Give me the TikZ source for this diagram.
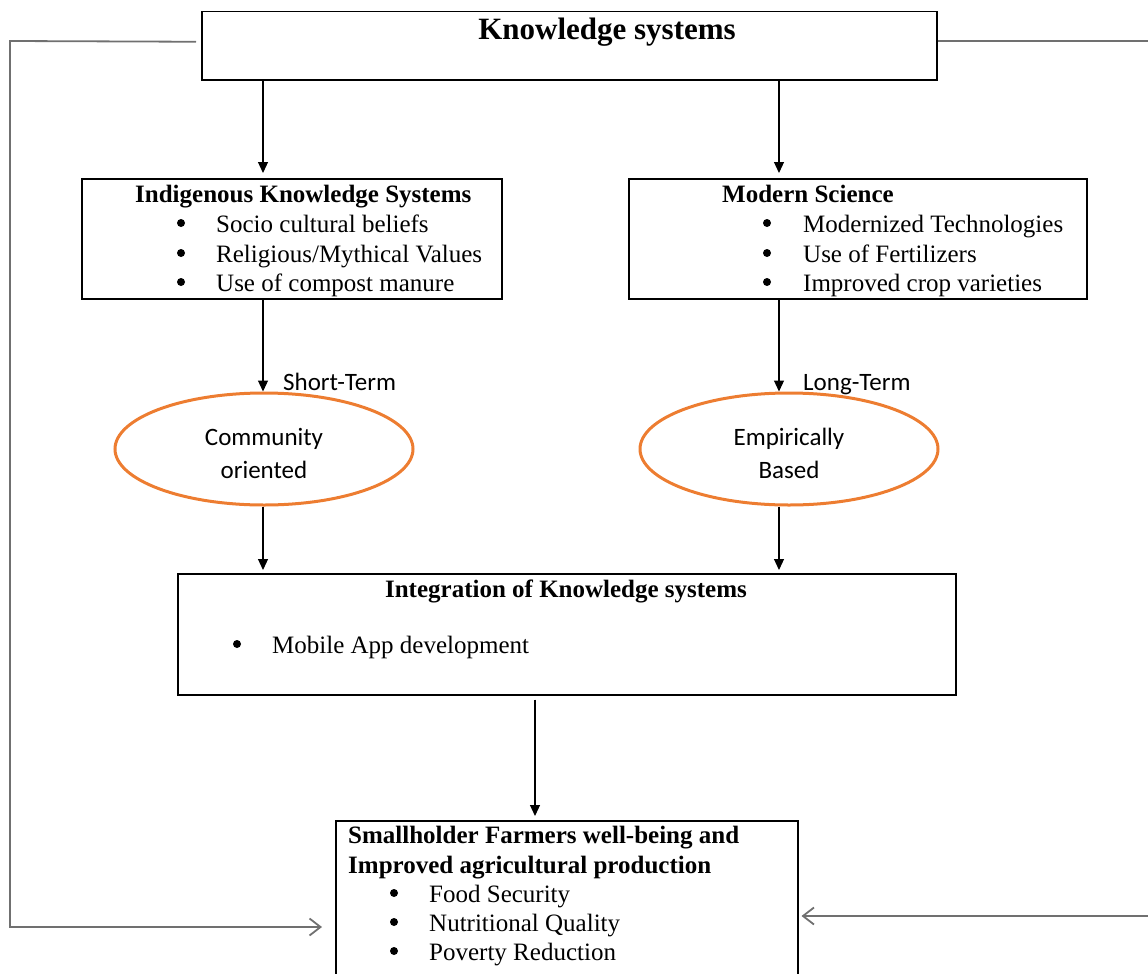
\documentclass[tikz,border=0pt]{standalone}
\usepackage{fontspec}
\setmainfont{Liberation Serif}
\newfontfamily\calfont{Carlito}
\usetikzlibrary{shapes.geometric,arrows.meta}
\definecolor{ovalorange}{RGB}{237,125,49}
\definecolor{linegrey}{RGB}{112,112,112}
\tikzset{
  box/.style={draw=black, line width=1.5pt, inner sep=0pt, anchor=north west},
  txt/.style={inner sep=0pt, anchor=base west, font=\fontsize{25}{30}\selectfont},
  ttl/.style={inner sep=0pt, anchor=base west, font=\fontsize{25}{30}\selectfont\bfseries},
  bul/.style={circle, fill=black, inner sep=0pt, minimum size=8pt},
  ctxt/.style={inner sep=0pt, anchor=base, font=\calfont\fontsize{25}{30}\selectfont},
  clbl/.style={inner sep=0pt, anchor=base west, font=\calfont\fontsize{25}{30}\selectfont},
  oval/.style={ellipse, draw=ovalorange, line width=3pt, minimum width=298pt, minimum height=112pt, inner sep=0pt},
  arr/.style={line width=1.2pt, -{Triangle[length=11pt,width=10pt]}},
  garr/.style={draw=linegrey, line width=1.8pt, -{Straight Barb[length=11pt,width=17pt]}},
  gline/.style={draw=linegrey, line width=1.8pt}
}
\begin{document}
\begin{tikzpicture}[x=1pt,y=-1pt]
\useasboundingbox (0,0) rectangle (1148,974);
% boxes
\node[box, minimum width=735pt, minimum height=68pt] (top) at (201,11) {};
\node[box, minimum width=420pt, minimum height=120pt] (iks) at (81,178) {};
\node[box, minimum width=458pt, minimum height=120pt] (ms) at (628,178) {};
\node[box, minimum width=778pt, minimum height=121pt] (integ) at (177,573) {};
\node[box, minimum width=462pt, minimum height=160pt] (bot) at (335,820) {};
\node[oval] (ellL) at (264,449) {};
\node[oval] (ellR) at (789,449) {};
% texts
\node[inner sep=0pt, anchor=base, font=\fontsize{31}{36}\selectfont\bfseries] (ttop) at (607,40) {Knowledge systems};
\node[ttl] (tiks) at (135,202) {Indigenous Knowledge Systems};
\node[bul] (b1) at (181,223) {};
\node[bul] (b2) at (181,253) {};
\node[bul] (b3) at (181,282) {};
\node[txt] (i1) at (216,232) {Socio cultural beliefs};
\node[txt] (i2) at (216,262) {Religious/Mythical Values};
\node[txt] (i3) at (216,291) {Use of compost manure};
\node[ttl] (tms) at (722,202) {Modern Science};
\node[bul] (b4) at (767,223) {};
\node[bul] (b5) at (767,253) {};
\node[bul] (b6) at (767,282) {};
\node[txt] (m1) at (803,232) {Modernized Technologies};
\node[txt] (m2) at (803,262) {Use of Fertilizers};
\node[txt] (m3) at (803,291) {Improved crop varieties};
\node[clbl] (lshort) at (283,390) {Short-Term};
\node[clbl] (llong) at (803,390) {Long-Term};
\node[ctxt] (e1) at (264,445) {Community};
\node[ctxt] (e2) at (264,478) {oriented};
\node[ctxt] (e3) at (789,445) {Empirically};
\node[ctxt] (e4) at (789,478) {Based};
\node[inner sep=0pt, anchor=base, font=\fontsize{25}{30}\selectfont\bfseries] (tint) at (566,597) {Integration of Knowledge systems};
\node[bul] (b7) at (237,644) {};
\node[txt] (n1) at (272,653) {Mobile App development};
\node[ttl] (tb1) at (348,843) {Smallholder Farmers well-being and};
\node[ttl] (tb2) at (348,873) {Improved agricultural production};
\node[bul] (b8) at (394,893) {};
\node[bul] (b9) at (394,922) {};
\node[bul] (b10) at (394,951) {};
\node[txt] (s1) at (429,902) {Food Security};
\node[txt] (s2) at (429,931) {Nutritional Quality};
\node[txt] (s3) at (429,960) {Poverty Reduction};
% connector columns
\coordinate (cL) at (263,0);
\coordinate (cR) at (779,0);
\coordinate (cM) at (535,0);
\coordinate (L1) at (10,41);
\coordinate (L2) at (10,927);
\coordinate (R1) at (1148,41);
\coordinate (R2) at (1148,916);
% arrows
\draw[arr, shorten >=5pt] (top.south -| cL) -- (iks.north -| cL);
\draw[arr, shorten >=5pt] (top.south -| cR) -- (ms.north -| cR);
\draw[arr] (iks.south -| cL) -- (ellL.north -| cL);
\draw[arr] (ms.south -| cR) -- (ellR.north -| cR);
\draw[arr, shorten >=3pt] (ellL.south -| cL) -- (integ.north -| cL);
\draw[arr, shorten >=3pt] (ellR.south -| cR) -- (integ.north -| cR);
\draw[arr, shorten <=4pt, shorten >=4pt] (integ.south -| cM) -- (bot.north -| cM);
% feedback lines
\draw[garr, shorten >=13pt] ([xshift=-5pt,yshift=4pt]top.west) -- (L1) -- (L2) -- (bot.west |- L2);
\draw[gline] (top.east |- R1) -- (R1);
\draw[garr, shorten >=3pt] (R2) -- (bot.east |- R2);
\end{tikzpicture}
\end{document}
